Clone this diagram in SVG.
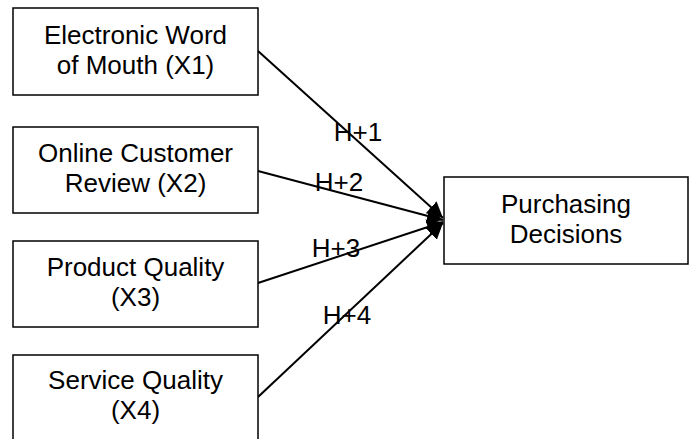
<svg xmlns="http://www.w3.org/2000/svg" width="691" height="439" viewBox="0 0 691 439">
<style>
.box{fill:#fff;stroke:#000;stroke-width:1.5}
.t{font-family:"Liberation Sans",Arial,sans-serif;font-size:26px;fill:#000;text-anchor:middle}
.c{stroke:#000;stroke-width:2;fill:none;marker-end:url(#ah)}
</style>
<defs>
<marker id="ah" markerUnits="userSpaceOnUse" markerWidth="17" markerHeight="16" refX="16" refY="8" orient="auto">
<path d="M0,0 L16,8 L0,16 Z" fill="#000"/>
</marker>
</defs>
<rect width="691" height="439" fill="#fff"/>
<g id="connectors">
<line class="c" x1="258" y1="51" x2="443" y2="218"/>
<line class="c" x1="258" y1="171" x2="443" y2="220"/>
<line class="c" x1="258" y1="283" x2="443" y2="222"/>
<line class="c" x1="258" y1="397" x2="443" y2="223"/>
<text class="t" x="358" y="141">H+1</text>
<text class="t" x="339" y="191">H+2</text>
<text class="t" x="336" y="257">H+3</text>
<text class="t" x="347" y="324">H+4</text>
</g>
<g id="x1">
<rect class="box" x="13" y="8" width="245" height="87"/>
<text class="t" x="135.5" y="43.5">Electronic Word</text>
<text class="t" x="135.5" y="73.5">of Mouth (X1)</text>
</g>
<g id="x2">
<rect class="box" x="13" y="127" width="245" height="86"/>
<text class="t" x="135.5" y="162">Online Customer</text>
<text class="t" x="135.5" y="192">Review (X2)</text>
</g>
<g id="x3">
<rect class="box" x="13" y="241" width="245" height="86"/>
<text class="t" x="135.5" y="275.5">Product Quality</text>
<text class="t" x="135.5" y="305.5">(X3)</text>
</g>
<g id="x4">
<rect class="box" x="13" y="355" width="245" height="87"/>
<text class="t" x="135.5" y="389">Service Quality</text>
<text class="t" x="135.5" y="419">(X4)</text>
</g>
<g id="y">
<rect class="box" x="444" y="177" width="244" height="87"/>
<text class="t" x="566" y="212.5">Purchasing</text>
<text class="t" x="566" y="242.5">Decisions</text>
</g>
</svg>
